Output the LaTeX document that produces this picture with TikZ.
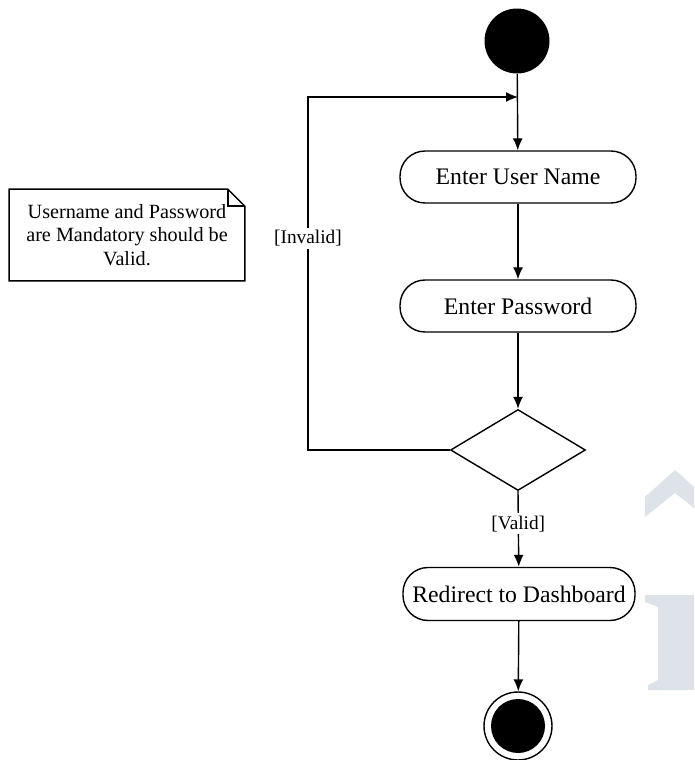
\documentclass[tikz,border=0pt]{standalone}
\usepackage{fontspec}
\setmainfont{Liberation Serif}
\usetikzlibrary{shapes.geometric, arrows.meta}
\definecolor{wmgray}{HTML}{DDE3E8}

\begin{document}
\begin{tikzpicture}[x=0.02cm, y=-0.02cm,
  activity/.style={draw, line width=0.8pt, rounded corners=0.5cm, minimum width=4.72cm, minimum height=1.04cm, inner sep=1pt, font=\fontsize{13.5}{16}\selectfont},
  decision/.style={draw, diamond, line width=0.8pt, minimum width=2.7cm, minimum height=1.62cm, inner sep=0pt},
  flow/.style={line width=0.8pt, -{Latex[length=2.4mm, width=2mm]}},
  guard/.style={fill=white, inner sep=1.5pt, font=\fontsize{11}{13}\selectfont}]

  \useasboundingbox (0,0) rectangle (694,760);

  % watermark
  \fill[wmgray] (645,497) -- (675,470) -- (694,487) -- (694,508) -- (675,493) -- (645,517) -- cycle;
  \fill[wmgray] (645,595) -- (694,595) -- (694,690) -- (648,690) -- (648,685) -- (658,680)
    -- (658,607) -- (645,602) -- cycle;

  % Start and end
  \node[circle, fill, minimum size=1.3cm, inner sep=0pt] (start) at (517,41) {};
  \node[circle, draw, line width=0.8pt, minimum size=1.36cm, inner sep=0pt,
        path picture={\fill (path picture bounding box.center) circle (0.54cm);}] (stop) at (518,726) {};

  % Activities
  \node[activity] (user) at (518,177) {Enter User Name};
  \node[activity] (pass) at (518,306) {Enter Password};
  \node[decision] (check) at (518,450) {};
  \node[activity, minimum width=4.64cm, minimum height=1.06cm] (dash) at (519,594) {Redirect to Dashboard};

  % Note
  \node[minimum width=4.7cm, minimum height=1.82cm, align=center, font=\fontsize{11.5}{13.5}\selectfont] (note) at (127,235)
    {Username and Password\\are Mandatory should be\\Valid.};
  \draw[line width=0.8pt] (note.south west) -- (note.north west) -- ([xshift=-0.34cm]note.north east)
    -- ([yshift=-0.34cm]note.north east) -- (note.south east) -- cycle;
  \draw[line width=0.8pt] ([xshift=-0.34cm]note.north east) |- ([yshift=-0.34cm]note.north east);

  % Loop points
  \coordinate (join) at (518,97);
  \coordinate (loopbot) at (308,450);
  \coordinate (looptop) at (308,97);

  % Flows
  \draw[flow] (start) -- (user);
  \draw[flow] (user) -- (pass);
  \draw[flow] (pass) -- (check);
  \draw[flow] (check.west) -- (loopbot) -- node[guard, pos=0.6] {[Invalid]} (looptop) -- (join);
  \draw[flow] (check.south) -- node[guard, pos=0.43] {[Valid]} (dash);
  \draw[flow] (dash) -- (stop);

\end{tikzpicture}
\end{document}
